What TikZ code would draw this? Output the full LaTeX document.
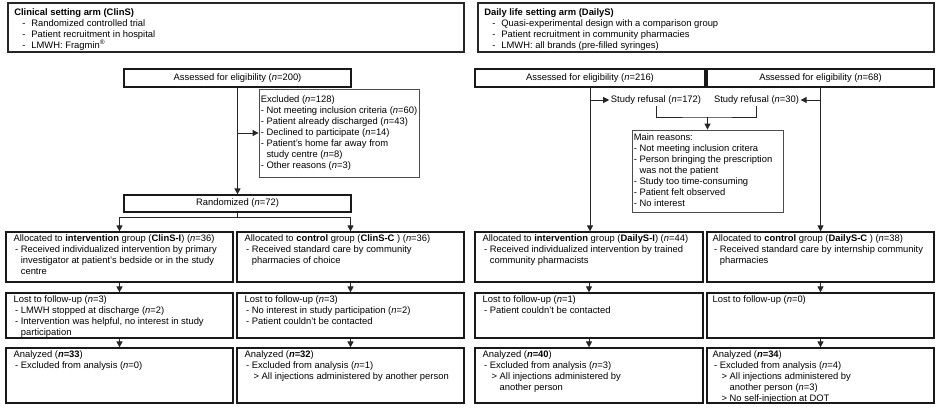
\documentclass[tikz,border=0pt]{standalone}
\usepackage{fontspec}
\setmainfont{Liberation Sans}
\usetikzlibrary{fit,calc,arrows.meta}
\newcommand{\ind}{\hphantom{-\ }}
\newcommand{\dsh}{\hspace*{1.5pt}-\ }
\newcommand{\cnt}{\hspace*{1.5pt}\ind}
\newcommand{\gt}{\hspace*{9pt}>\ }
\newcommand{\gcnt}{\hspace*{9pt}\hphantom{>\ }}
\newcommand{\hdsh}{\hspace*{8pt}-\hspace*{6pt}}
\newcommand{\nn}{\textit{n}}
\begin{document}
\begin{tikzpicture}[x=1pt,y=-1pt,
  font=\fontsize{9.4pt}{11pt}\selectfont,
  conn/.style={draw=black!85, line width=0.9pt},
  arr/.style={conn, -{Triangle[length=6pt,width=6pt]}},
  headbox/.style={draw=black!85, line width=1.8pt, inner sep=0pt},
  flowbox/.style={draw=black!90, line width=1.2pt, inner sep=0pt},
  notebox/.style={draw=black!70, line width=0.8pt, inner sep=0pt},
  txt/.style={inner sep=0pt, anchor=north west, align=left},
  ctxt/.style={inner sep=0pt},
  reftxt/.style={inner sep=1.5pt}
]
\useasboundingbox (0,0) rectangle (937,407);

% ---- header boxes
\node[headbox, fit={(8,3) (464,52)}] (hL) {};
\node[txt] (hL-t) at ([shift={(7,5)}]hL.north west) {\begin{tabular}{@{}l@{}}
\textbf{Clinical setting arm (ClinS)}\\
\hdsh Randomized controlled trial\\
\hdsh Patient recruitment in hospital\\
\hdsh LMWH: Fragmin\textsuperscript{\textregistered}
\end{tabular}};
\node[headbox, fit={(478,3) (934,52)}] (hR) {};
\node[txt] (hR-t) at ([shift={(7,5)}]hR.north west) {\begin{tabular}{@{}l@{}}
\textbf{Daily life setting arm (DailyS)}\\
\hdsh Quasi-experimental design with a comparison group\\
\hdsh Patient recruitment in community pharmacies\\
\hdsh LMWH: all brands (pre-filled syringes)
\end{tabular}};

% ---- left arm
\node[flowbox, fit={(124,69) (351,87)}] (assL) {};
\node[ctxt] (assL-t) at (assL.center) {Assessed for eligibility (\nn=200)};
\node[notebox, fit={(259,89) (419,177)}] (excl) {};
\node[txt, anchor=west] (excl-t) at ([xshift=2]excl.west) {\begin{tabular}{@{}l@{}}
Excluded (\nn=128)\\
- Not meeting inclusion criteria (\nn=60)\\
- Patient already discharged (\nn=43)\\
- Declined to participate (\nn=14)\\
- Patient's home far away from\\
\ind study centre (\nn=8)\\
- Other reasons (\nn=3)
\end{tabular}};
\node[flowbox, fit={(124,195) (351,212)}] (rand) {};
\node[ctxt] (rand-t) at (rand.center) {Randomized (\nn=72)};

\node[flowbox, fit={(6,232) (233,282)}] (alI) {};
\node[txt] (alI-t) at ([shift={(8,2)}]alI.north west) {\begin{tabular}{@{}l@{}}
Allocated to \textbf{intervention} group (\textbf{ClinS-I}) (\nn=36)\\
\dsh Received individualized intervention by primary\\
\cnt investigator at patient's bedside or in the study\\
\cnt centre
\end{tabular}};
\node[flowbox, fit={(237,232) (464,282)}] (alC) {};
\node[txt] (alC-t) at ([shift={(8,2)}]alC.north west) {\begin{tabular}{@{}l@{}}
Allocated to \textbf{control} group (\textbf{ClinS-C} ) (\nn=36)\\
\dsh Received standard care by community\\
\cnt pharmacies of choice
\end{tabular}};

\node[flowbox, fit={(6,293) (233,338)}] (lostI) {};
\node[txt] (lostI-t) at ([shift={(8,2)}]lostI.north west) {\begin{tabular}{@{}l@{}}
Lost to follow-up (\nn=3)\\
\dsh LMWH stopped at discharge (\nn=2)\\
\dsh Intervention was helpful, no interest in study\\
\cnt participation
\end{tabular}};
\node[flowbox, fit={(237,293) (464,338)}] (lostC) {};
\node[txt] (lostC-t) at ([shift={(8,2)}]lostC.north west) {\begin{tabular}{@{}l@{}}
Lost to follow-up (\nn=3)\\
\dsh No interest in study participation (\nn=2)\\
\dsh Patient couldn't be contacted
\end{tabular}};

\node[flowbox, fit={(6,348) (233,403)}] (anI) {};
\node[txt] (anI-t) at ([shift={(8,2)}]anI.north west) {\begin{tabular}{@{}l@{}}
Analyzed (\textbf{\textit{n}=33})\\
\dsh Excluded from analysis (\nn=0)
\end{tabular}};
\node[flowbox, fit={(237,348) (464,403)}] (anC) {};
\node[txt] (anC-t) at ([shift={(8,2)}]anC.north west) {\begin{tabular}{@{}l@{}}
Analyzed (\textbf{\textit{n}=32})\\
\dsh Excluded from analysis (\nn=1)\\
\gt All injections administered by another person
\end{tabular}};

% ---- right arm
\node[flowbox, fit={(475,69) (705,87)}] (ass216) {};
\node[ctxt] (ass216-t) at (ass216.center) {Assessed for eligibility (\nn=216)};
\node[flowbox, fit={(707,69) (934,87)}] (ass68) {};
\node[ctxt] (ass68-t) at (ass68.center) {Assessed for eligibility (\nn=68)};
\node[reftxt] (ref1) at (656,100) {Study refusal (\nn=172)};
\node[reftxt] (ref2) at (756.5,100) {Study refusal (\nn=30)};
\node[notebox, fit={(632,130) (783,212)}] (reasons) {};
\node[txt, anchor=west] (reasons-t) at ([xshift=2]reasons.west) {\begin{tabular}{@{}l@{}}
Main reasons:\\
- Not meeting inclusion critera\\
- Person bringing the prescription\\
\ind was not the patient\\
- Study too time-consuming\\
- Patient felt observed\\
- No interest
\end{tabular}};

\node[flowbox, fit={(475,232) (703,282)}] (alDI) {};
\node[txt] (alDI-t) at ([shift={(8,2)}]alDI.north west) {\begin{tabular}{@{}l@{}}
Allocated to \textbf{intervention} group (\textbf{DailyS-I}) (\nn=44)\\
\dsh Received individualized intervention by trained\\
\cnt community pharmacists
\end{tabular}};
\node[flowbox, fit={(707,232) (934,282)}] (alDC) {};
\node[txt] (alDC-t) at ([shift={(6,2)}]alDC.north west) {\begin{tabular}{@{}l@{}}
Allocated to \textbf{control} group (\textbf{DailyS-C} ) (\nn=38)\\
\dsh Received standard care by internship community\\
\cnt pharmacies
\end{tabular}};

\node[flowbox, fit={(475,293) (703,338)}] (lostDI) {};
\node[txt] (lostDI-t) at ([shift={(8,2)}]lostDI.north west) {\begin{tabular}{@{}l@{}}
Lost to follow-up (\nn=1)\\
\dsh Patient couldn't be contacted
\end{tabular}};
\node[flowbox, fit={(707,293) (934,338)}] (lostDC) {};
\node[txt] (lostDC-t) at ([shift={(6,2)}]lostDC.north west) {\begin{tabular}{@{}l@{}}
Lost to follow-up (\nn=0)
\end{tabular}};

\node[flowbox, fit={(475,348) (703,403)}] (anDI) {};
\node[txt] (anDI-t) at ([shift={(8,2)}]anDI.north west) {\begin{tabular}{@{}l@{}}
Analyzed (\textbf{\textit{n}=40})\\
\dsh Excluded from analysis (\nn=3)\\
\gt All injections administered by\\
\gcnt another person
\end{tabular}};
\node[flowbox, fit={(707,348) (934,403)}] (anDC) {};
\node[txt] (anDC-t) at ([shift={(6,2)}]anDC.north west) {\begin{tabular}{@{}l@{}}
Analyzed (\textbf{\textit{n}=34})\\
\dsh Excluded from analysis (\nn=4)\\
\gt All injections administered by\\
\gcnt another person (\nn=3)\\
\gt No self-injection at DOT
\end{tabular}};

% ---- connectors left
\draw[arr] (assL) -- (rand);
\draw[arr] (assL.south |- excl.west) -- (excl.west);
\coordinate (br) at ($(rand.south)+(0,5)$);
\draw[arr] (rand.south) -- (br) -| (alI.north);
\draw[arr] (br) -| (alC.north);
\draw[arr] (alI) -- (lostI);
\draw[arr] (lostI) -- (anI);
\draw[arr] (alC) -- (lostC);
\draw[arr] (lostC) -- (anC);

% ---- connectors right
\draw[arr] (ass216.south) -- (ass216.south |- alDI.north);
\draw[arr] (ass68.south) -- (ass68.south |- alDC.north);
\draw[arr] (ass216.south |- ref1) -- (ref1.west);
\draw[arr] (ass68.south |- ref2) -- (ref2.east);
\coordinate (bk) at (reasons.north |- 0,117);
\draw[conn] (ref1.south) |- (bk) -| (ref2.south);
\draw[arr] (bk) -- (reasons.north);
\draw[arr] (alDI) -- (lostDI);
\draw[arr] (lostDI) -- (anDI);
\draw[arr] (alDC) -- (lostDC);
\draw[arr] (lostDC) -- (anDC);
\end{tikzpicture}
\end{document}
